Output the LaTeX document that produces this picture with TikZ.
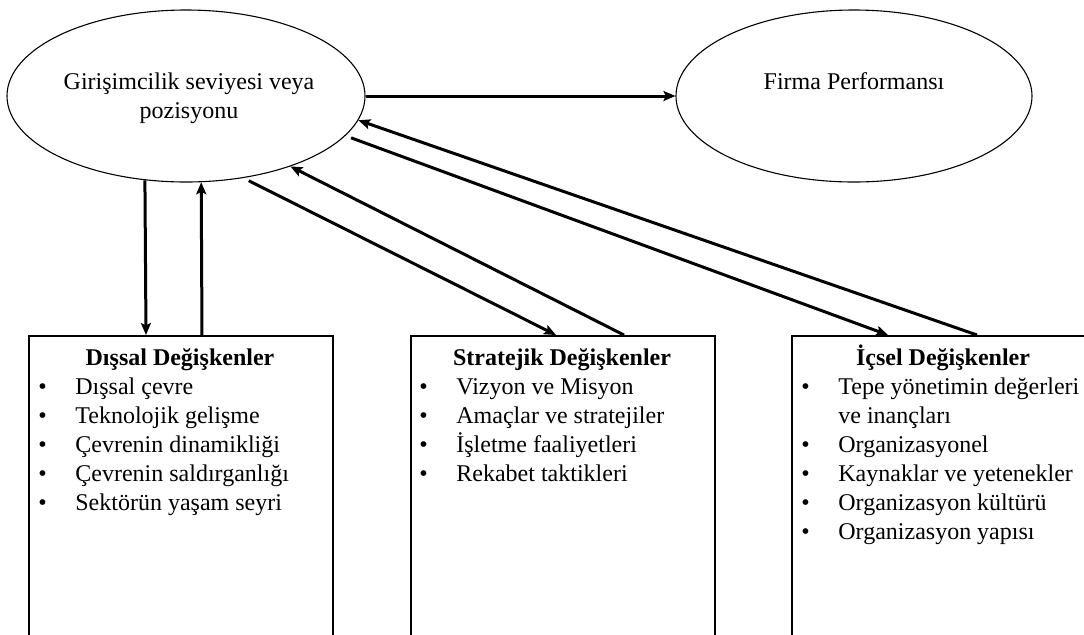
\documentclass[tikz,border=0pt]{standalone}
\usepackage{fontspec}
\setmainfont{Liberation Serif}
\usetikzlibrary{arrows.meta,shapes.geometric,calc}
\begin{document}
\begin{tikzpicture}[x=0.5pt,y=-0.5pt,
  oval/.style={draw, ellipse, line width=0.55pt, inner sep=0pt},
  varbox/.style={draw, line width=0.8pt, anchor=north west, minimum width=152pt, minimum height=200pt, inner sep=0pt},
  link/.style={line width=1.5pt, -{Stealth[length=6pt,width=5pt,inset=1.2pt]}},
  lbl/.style={anchor=base, inner sep=0pt, font=\fontsize{12}{14.5}\selectfont},
  boxhead/.style={anchor=base, inner sep=0pt, font=\fontsize{12}{14.5}\selectfont\bfseries},
  items/.style={anchor=base west, inner sep=0pt, font=\fontsize{12}{14.5}\selectfont}]
\useasboundingbox (0,0) rectangle (1084,634);
\clip (0,0) rectangle (1084,634);

% the two constructs
\node[oval, minimum width=179pt, minimum height=86pt] (gir) at (186,96) {};
\node[oval, minimum width=178pt, minimum height=86pt] (firm) at (854,96) {};
\node[lbl] (girA) at (189,89) {Girişimcilik seviyesi veya};
\node[lbl] (girB) at (189,118) {pozisyonu};
\node[lbl] (firmT) at (854,89) {Firma Performansı};

% the three groups of variables
\node[varbox] (dis) at (28,335) {};
\node[varbox] (str) at (410,335) {};
\node[varbox] (ic) at (791,335) {};

\node[boxhead] (disT) at (180,365) {Dışsal Değişkenler};
\node[boxhead] (strT) at (562,365) {Stratejik Değişkenler};
\node[boxhead] (icT) at (943,365) {İçsel Değişkenler};

\node[items] (disL) at (38,394) {\begin{tabular}[t]{@{}p{18.5pt}@{}l@{}}
• & Dışsal çevre\\
• & Teknolojik gelişme\\
• & Çevrenin dinamikliği\\
• & Çevrenin saldırganlığı\\
• & Sektörün yaşam seyri
\end{tabular}};
\node[items] (strL) at (419,394) {\begin{tabular}[t]{@{}p{18.5pt}@{}l@{}}
• & Vizyon ve Misyon\\
• & Amaçlar ve stratejiler\\
• & İşletme faaliyetleri\\
• & Rekabet taktikleri
\end{tabular}};
\node[items] (icL) at (801,394) {\begin{tabular}[t]{@{}p{18.5pt}@{}l@{}}
• & Tepe yönetimin değerleri\\
  & ve inançları\\
• & Organizasyonel\\
• & Kaynaklar ve yetenekler\\
• & Organizasyon kültürü\\
• & Organizasyon yapısı
\end{tabular}};

% relations
\draw[link] (gir.east) -- (firm.west);
\draw[link] (gir.244.5) -- ($(dis.north west)+(118,0)$);
\draw[link] ($(dis.north west)+(174,0)$) -- (gir.280.6);
\draw[link] ($(str.north west)+(214,0)$) -- (gir.326);
\draw[link, shorten <=3pt] (gir.305) -- ($(str.north west)+(146,0)$);
\draw[link] ($(ic.north west)+(186,0)$) -- (gir.352.2);
\draw[link, shorten <=3pt] (gir.346.8) -- ($(ic.north west)+(97,0)$);
\end{tikzpicture}
\end{document}
